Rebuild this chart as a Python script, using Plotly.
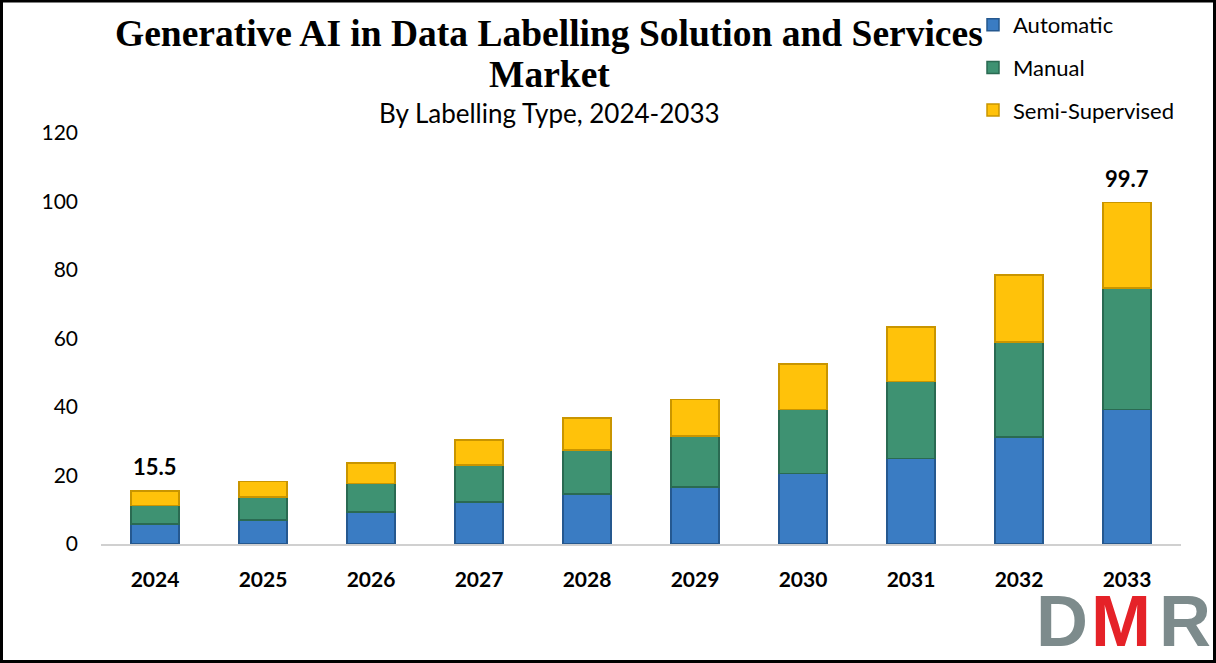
import plotly.graph_objects as go

years = ["2024", "2025", "2026", "2027", "2028", "2029", "2030", "2031", "2032", "2033"]
automatic = [5.9, 7.0, 9.4, 12.3, 14.6, 16.7, 20.6, 25.0, 31.2, 39.3]
manual = [5.3, 6.7, 8.3, 10.8, 12.8, 14.9, 18.7, 22.4, 27.8, 35.4]
semi = [4.3, 4.5, 6.0, 7.3, 9.4, 10.6, 13.3, 15.9, 19.5, 25.0]
labelled = {"2024": "15.5", "2033": "99.7"}

series = [
    ("Automatic", automatic, "#3A7CC3", "#25588F"),
    ("Manual", manual, "#3E9272", "#2A6A52"),
    ("Semi-Supervised", semi, "#FFC20A", "#C99500"),
]

fig = go.Figure()
for name, vals, col, edge in series:
    fig.add_trace(go.Bar(
        x=years, y=vals, name=name, legendgroup=name,
        marker=dict(color=col, line=dict(color=edge, width=1.5)),
        width=0.44,
    ))

totals = [a + b + c for a, b, c in zip(automatic, manual, semi)]
annotations = []
for i, (yr, tot) in enumerate(zip(years, totals)):
    if yr in labelled:
        annotations.append(dict(x=i, y=tot, xref="x", yref="y", text="<b>%s</b>" % labelled[yr], showarrow=False,
                                yanchor="bottom", yshift=9,
                                font=dict(family="Lato", size=22, color="#000")))

L, T, W, H = 101, 133, 1080, 411
def px(x):
    return (x - L) / W
def py(y):
    return (T + H - y) / H

annotations += [
    dict(xref="paper", yref="paper", x=px(549), y=py(33), text="<b>Generative AI in Data Labelling Solution and Services</b>",
         showarrow=False, font=dict(family="Liberation Serif", size=37.5, color="#000"), xanchor="center", yanchor="middle"),
    dict(xref="paper", yref="paper", x=px(549), y=py(75), text="<b>Market</b>",
         showarrow=False, font=dict(family="Liberation Serif", size=37.5, color="#000"), xanchor="center", yanchor="middle"),
    dict(xref="paper", yref="paper", x=px(549), y=py(113), text="By Labelling Type, 2024-2033",
         showarrow=False, font=dict(family="Lato", size=26, color="#000"), xanchor="center", yanchor="middle"),
]

# DMR logo as text
logo_font = "Liberation Sans"
logo_letters = ["D", "M", "R"]
logo_colors = ["#7D8B8C", "#E52228", "#7D8B8C"]
logo_x = [1062, 1121, 1185]
for ch, xc, col in zip(logo_letters, logo_x, logo_colors):
    annotations.append(dict(xref="paper", yref="paper", x=px(xc), y=py(662), text="<b>%s</b>" % ch,
                            showarrow=False, xanchor="center", yanchor="bottom", borderpad=0,
                            font=dict(family=logo_font, size=72, color=col)))

fig.update_layout(
    width=1216, height=663,
    margin=dict(l=L, r=1216 - L - W, t=T, b=663 - T - H, autoexpand=False),
    paper_bgcolor="white", plot_bgcolor="white",
    barmode="stack",
    showlegend=True,
    legend=dict(x=px(973), y=py(4), xanchor="left", yanchor="top",
                font=dict(family="Lato", size=22, color="#000"),
                traceorder="grouped", tracegroupgap=11, bgcolor="rgba(0,0,0,0)",
                itemwidth=30),
    xaxis=dict(type="category", range=[-0.5, 9.5], showgrid=False, showline=True, linecolor="#D0D0D0", linewidth=2,
               ticks="", tickfont=dict(family="Lato", size=21, color="#000"), tickprefix="<b>", ticksuffix="</b>",
               ticklabelstandoff=16, zeroline=False),
    yaxis=dict(range=[0, 120], dtick=20, showgrid=False, showline=False, zeroline=False, ticks="",
               tickfont=dict(family="Lato", size=21, color="#000"), ticklabelstandoff=22),
    annotations=annotations,
    shapes=[dict(type="rect", xref="paper", yref="paper", x0=px(1.5), x1=px(1214.5), y0=py(661.5), y1=py(1),
                 line=dict(color="#000", width=3), fillcolor="rgba(0,0,0,0)", layer="above")],
)

fig.write_html("out.html", config={"displayModeBar": False},
               post_script="document.body.style.margin='0';document.body.style.overflow='hidden';")
